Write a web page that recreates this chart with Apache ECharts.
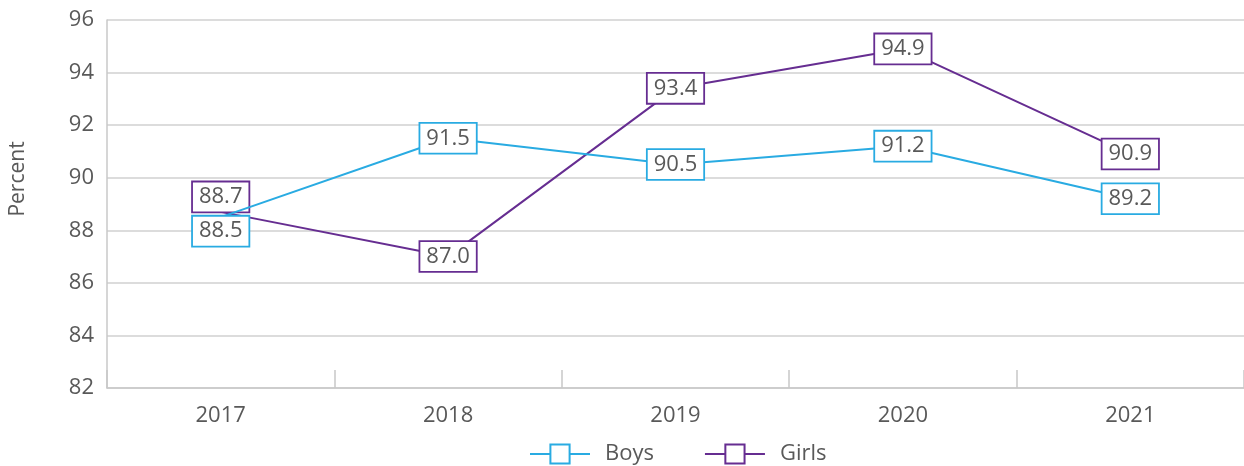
<!DOCTYPE html>
<html>
<head>
<meta charset="utf-8">
<script src="https://cdn.jsdelivr.net/npm/echarts@6/dist/echarts.min.js"></script>
<style>
  html, body { margin: 0; padding: 0; background: #fff; }
  #chart { width: 1244px; height: 466px; }
</style>
</head>
<body>
<div id="chart"></div>
<script>
// Share of pupils (percent) by year
const years = ['2017', '2018', '2019', '2020', '2021'];
const boys = [88.5, 91.5, 90.5, 91.2, 89.2];
const girls = [88.7, 87.0, 93.4, 94.9, 90.9];
const yTicks = [82, 84, 86, 88, 90, 92, 94, 96];

const BOYS_COLOR = '#29abe2';
const GIRLS_COLOR = '#662d91';
const TEXT_COLOR = '#595959';
const FONT = '"Open Sans", "Noto Sans", sans-serif';

// Boxed value label drawn over each point
function boxedLabel(color) {
  return {
    show: true,
    position: 'inside',
    formatter: p => p.value.toFixed(1),
    color: TEXT_COLOR,
    fontFamily: FONT,
    fontSize: 22,
    lineHeight: 23,
    backgroundColor: '#fff',
    borderColor: color,
    borderWidth: 1.8,
    padding: [4, 6, 2, 6]
  };
}

// In 2017 the two series nearly coincide, so their labels are pushed apart
// and the point marker is left out there
function seriesData(values, offsets) {
  return values.map((v, i) => {
    const item = { value: v };
    if (offsets[i]) {
      item.label = { offset: [0, offsets[i]] };
      item.symbolSize = 0;
    }
    return item;
  });
}

const chart = echarts.init(document.getElementById('chart'), null, { renderer: 'canvas' });

chart.setOption({
  animation: false,
  backgroundColor: '#fff',
  textStyle: { fontFamily: FONT },
  grid: { left: 107, right: -4, top: 20, bottom: 78 },
  legend: {
    left: 524,
    top: 438,
    itemWidth: 60,
    itemHeight: 24,
    itemGap: 50,
    textStyle: { color: TEXT_COLOR, fontSize: 22, fontFamily: FONT, padding: [0, 0, 0, 10] },
    data: ['Boys', 'Girls']
  },
  graphic: [{
    type: 'text',
    x: 18,
    y: 179,
    rotation: Math.PI / 2,
    style: {
      text: 'Percent',
      fill: TEXT_COLOR,
      font: '21px ' + FONT,
      textAlign: 'center',
      textVerticalAlign: 'middle'
    }
  }],
  xAxis: {
    type: 'category',
    data: years,
    boundaryGap: true,
    axisLine: { lineStyle: { color: '#c8c8c8', width: 1.5 } },
    axisTick: { show: true, inside: true, length: 18, lineStyle: { color: '#c8c8c8', width: 1.5 } },
    axisLabel: { color: TEXT_COLOR, fontSize: 22, fontFamily: FONT, margin: 17 },
    splitLine: { show: false }
  },
  yAxis: {
    type: 'value',
    min: yTicks[0],
    max: yTicks[yTicks.length - 1],
    interval: 2,
    axisLine: { show: true, lineStyle: { color: '#c8c8c8', width: 1.5 } },
    axisTick: { show: false },
    axisLabel: { color: TEXT_COLOR, fontSize: 22, fontFamily: FONT, margin: 13 },
    splitLine: { lineStyle: { color: '#d0d0d0', width: 1.5 } }
  },
  series: [
    {
      name: 'Boys',
      type: 'line',
      data: seriesData(boys, [14, 0, 0, 0, 0]),
      symbol: 'rect',
      symbolSize: 16,
      itemStyle: { color: '#fff', borderColor: BOYS_COLOR, borderWidth: 2 },
      lineStyle: { color: BOYS_COLOR, width: 2 },
      label: boxedLabel(BOYS_COLOR),
      z: 3
    },
    {
      name: 'Girls',
      type: 'line',
      data: seriesData(girls, [-15, 0, 0, 0, 0]),
      symbol: 'rect',
      symbolSize: 16,
      itemStyle: { color: '#fff', borderColor: GIRLS_COLOR, borderWidth: 2 },
      lineStyle: { color: GIRLS_COLOR, width: 2 },
      label: boxedLabel(GIRLS_COLOR),
      z: 2
    }
  ]
});
</script>
</body>
</html>
